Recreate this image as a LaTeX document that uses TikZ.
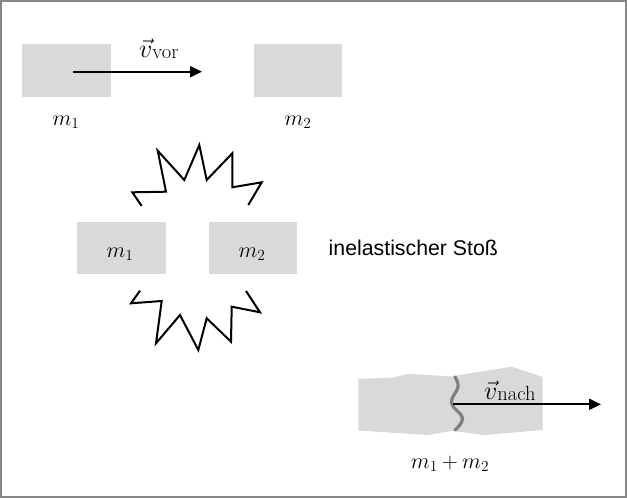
\RequirePackage{fix-cm}
\documentclass[tikz,border=0pt]{standalone}
\usepackage{fontspec}
\newfontfamily\arialfont{Liberation Sans}
\usetikzlibrary{arrows.meta}
\definecolor{boxgray}{HTML}{D9D9D9}
\definecolor{framegray}{HTML}{878787}
\definecolor{wavegray}{HTML}{7F7F7F}
\newcommand{\mathfont}{\fontsize{22}{25}\selectfont}
\newcommand{\vlab}[1]{{\fontsize{26}{28}\selectfont$\vec{v}$}{\fontsize{20.5}{22}\selectfont\raisebox{-1pt}{#1}}}
\tikzset{
  massbox/.style={fill=boxgray, draw=none, inner sep=0pt},
  masslabel/.style={inner sep=0pt, font=\mathfont},
  vlabel/.style={inner sep=0pt, anchor=base west},
  vecarrow/.style={line width=2pt, -{Triangle[length=12pt,width=11pt]}},
  zigzag/.style={line width=2pt, line join=miter, black},
  wavestyle/.style={line width=3.2pt, wavegray, line cap=round},
  fused/.style={fill=boxgray, draw=none},
  frame/.style={line width=2pt, framegray}
}
\begin{document}
\begin{tikzpicture}[x=1pt,y=-1pt]
\useasboundingbox (0,0) rectangle (627,498);
\draw[frame] (1,1) rectangle (626,497);

% top row
\node[massbox, minimum width=88.7pt, minimum height=52.7pt] (b1) at (66.3,70.3) {};
\node[massbox, minimum width=88pt, minimum height=52.7pt] (b2) at (298,70.3) {};
\node[masslabel, anchor=base] (l1) at (66,125.5) {$m_1$};
\node[masslabel, anchor=base] (l2) at (298,125.5) {$m_2$};
\coordinate (a1s) at (73,71.7);
\coordinate (a1e) at (202,71.7);
\draw[vecarrow] (a1s) -- (a1e);
\node[vlabel] (vvor) at (139,57.5) {\vlab{vor}};

% collision
\node[massbox, minimum width=89.3pt, minimum height=52.3pt] (c1) at (121.3,248.2) {};
\node[massbox, minimum width=88pt, minimum height=52.3pt] (c2) at (253,248.2) {};
\node[masslabel, anchor=base] (c1l) at (120,257.5) {$m_1$};
\node[masslabel, anchor=base] (c2l) at (252,257.5) {$m_2$};
\node[inner sep=0pt, anchor=base west, font=\arialfont\fontsize{21.3}{24}\selectfont] (stoss) at (328.5,255) {inelastischer Sto\ss};

\draw[zigzag] (141.7,206) -- (132.3,192.3) -- (166,191.7) -- (157.7,150.7) -- (184.3,180)
  -- (199.3,145) -- (206.7,180) -- (232.3,153.3) -- (232.3,187.3) -- (261.7,182.3) -- (248.3,205);
\draw[zigzag] (140,290.7) -- (131,303.3) -- (161.7,301) -- (156,343.3) -- (180,315)
  -- (198.3,350) -- (206.7,318.3) -- (231,341.7) -- (231.7,306.7) -- (260,312.3) -- (246,291);

% after collision
\fill[fused] (358.3,379) -- (393,377.5) -- (408.3,374) -- (454,376.5) -- (454,430.5)
  -- (428,435) -- (358.3,430.5) -- cycle;
\fill[fused] (453,376) -- (512,366.7) -- (542.5,377) -- (542.5,430) -- (484,435) -- (453,431) -- cycle;
\draw[wavestyle] plot[smooth, tension=0.7] coordinates {(455,377) (458,387) (451.5,403) (462.5,418) (455,430)};
\coordinate (a2s) at (453,404.3);
\coordinate (a2e) at (601,404.3);
\draw[vecarrow] (a2s) -- (a2e);
\node[vlabel] (vnach) at (484,399) {\vlab{nach}};
\node[masslabel, anchor=base] (lsum) at (450,468) {$m_1 \mkern-0.5mu+\mkern-0.5mu m_2$};
\end{tikzpicture}
\end{document}
